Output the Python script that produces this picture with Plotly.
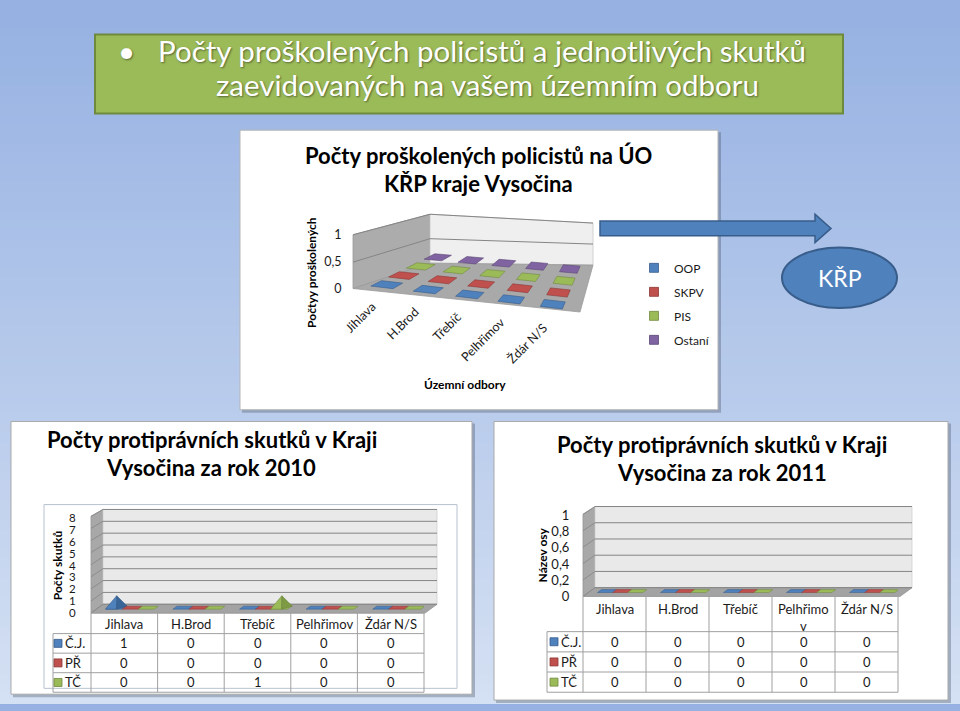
import plotly.graph_objects as go

W, H = 960, 711
FONT = "Lato"

# ---------------- data ----------------
units = ["Jihlava", "H.Brod", "Třebíč", "Pelhřimov", "Ždár N/S"]
units_2011_header = ["Jihlava", "H.Brod", "Třebíč", "Pelhřimo<br>v", "Ždár N/S"]

trained_names = ["OOP", "SKPV", "PIS", "Ostaní"]
trained_oop = [0, 0, 0, 0, 0]
trained_skpv = [0, 0, 0, 0, 0]
trained_pis = [0, 0, 0, 0, 0]
trained_ostani = [0, 0, 0, 0, 0]
trained_ticks = [0, 0.5, 1]

offence_names = ["Č.J.", "PŘ", "TČ"]
off2010_cj = [1, 0, 0, 0, 0]
off2010_pr = [0, 0, 0, 0, 0]
off2010_tc = [0, 0, 1, 0, 0]
off2011_cj = [0, 0, 0, 0, 0]
off2011_pr = [0, 0, 0, 0, 0]
off2011_tc = [0, 0, 0, 0, 0]
ticks_2010 = [0, 1, 2, 3, 4, 5, 6, 7, 8]
ticks_2011 = [0, 0.2, 0.4, 0.6, 0.8, 1]

# ---------------- styles ----------------
COL = ["#4f81bd", "#c0504d", "#9bbb59", "#8064a2"]
COL_EDGE = ["#385d8a", "#8c3836", "#71893f", "#5c4776"]
COL_DARK = ["#3a6598", "#9b3d3a", "#7d9a44", "#654f82"]
GRID = "#858585"
TXT = "#1a1a1a"
TABLE_LINE = "#a0a0a0"


def X(px):
    return px / W


def Y(py):
    return 1 - py / H


shapes = []


def path(points):
    return "M" + "L".join(f"{X(x):.5f},{Y(y):.5f}" for x, y in points) + "Z"


def poly(points, fill, line=None, width=0, layer="below"):
    shapes.append(dict(type="path", xref="paper", yref="paper", path=path(points),
                       fillcolor=fill, line=dict(color=line or fill, width=width), layer=layer))


def rect(x0, y0, x1, y1, fill, line=None, width=0, layer="below"):
    shapes.append(dict(type="rect", xref="paper", yref="paper", x0=X(x0), x1=X(x1),
                       y0=Y(y1), y1=Y(y0), fillcolor=fill,
                       line=dict(color=line or fill, width=width), layer=layer))


def seg(x0, y0, x1, y1, color, width=1, layer="below"):
    shapes.append(dict(type="line", xref="paper", yref="paper", x0=X(x0), y0=Y(y0),
                       x1=X(x1), y1=Y(y1), line=dict(color=color, width=width), layer=layer))


annotations = []


def text(x, y, t, size, color=TXT, xanchor="center", yanchor="middle", angle=0, bold=False, shadow=None):
    f = dict(family=FONT, size=size, color=color)
    if shadow:
        f["shadow"] = shadow
    annotations.append(dict(x=X(x), y=Y(y), xref="paper", yref="paper", text=(f"<b>{t}</b>" if bold else t),
                            showarrow=False, xanchor=xanchor, yanchor=yanchor, textangle=angle, font=f))


fig = go.Figure()

# ---------------- slide background ----------------
top, bot = (150, 177, 226), (212, 224, 243)
n = 72
for k in range(n):
    f = k / (n - 1)
    c = tuple(round(top[m] + (bot[m] - top[m]) * f) for m in range(3))
    rect(0, k * H / n, W, (k + 1) * H / n + 1, f"rgb{c}")

# title box
rect(95, 27, 843, 108, "#9bbb59", "#6f8a3c", 2)
sh = "1px 1px 2px rgba(0,0,0,0.45)"
text(126, 43, "•", 29.5, "white", shadow=sh)
text(156, 43, "Počty proškolených policistů a jednotlivých skutků", 29.5, "white", xanchor="left", shadow=sh)
text(487, 78, "zaevidovaných na vašem územním odboru", 29.5, "white", shadow=sh)

# ---------------- panel 1 : trained police officers (3D column) ----------------
rect(242, 127, 721, 414, "rgba(70,80,100,0.35)")
rect(240, 125, 718, 411, "white", "#b5b5b5", 1)
text(478, 151, "Počty proškolených policistů na ÚO", 22, "black", bold=True)
text(478, 180, "KŘP kraje Vysočina", 22, "black", bold=True)

# 3D walls / floor
poly([(353, 232), (430, 211), (430, 261), (353, 287)], "#acacac", "#9a9a9a", 0.8)
poly([(430, 211), (593, 220), (593, 263), (430, 261)], "#efefef", "#c8c8c8", 0.8)
poly([(353, 287), (430, 261), (593, 263), (580, 311)], "#a9a9a9", "#9a9a9a", 0.8)
seg(353, 232, 430, 211, GRID, 1)
seg(430, 211, 593, 220, GRID, 1)
seg(353, 260, 430, 236, GRID, 1)
seg(430, 236, 593, 241.5, GRID, 1)

# projection of (category, series, value) into the page (perspective camera of the 3D chart)
P_A, P_B, P_C, P_D = (387, 283), (553, 303), (438, 255), (570, 267)
VAL_PX = 287 - 232  # pixels per value unit on the value axis


def proj(i, j, v=0.0):
    u, t = i / 4, j / 3
    x = (1 - u) * (1 - t) * P_A[0] + u * (1 - t) * P_B[0] + (1 - u) * t * P_C[0] + u * t * P_D[0]
    y = (1 - u) * (1 - t) * P_A[1] + u * (1 - t) * P_B[1] + (1 - u) * t * P_C[1] + u * t * P_D[1]
    return x, y - v * VAL_PX


trained = [trained_oop, trained_skpv, trained_pis, trained_ostani]
HU, HT = 0.26, 0.3
for j, series in enumerate(trained):
    xs, ys = [], []
    for i, v in enumerate(series):
        faces = [[(i - HU, j - HT, v), (i + HU, j - HT, v), (i + HU, j + HT, v), (i - HU, j + HT, v)]]
        if v > 0:
            faces.append([(i - HU, j - HT, 0), (i + HU, j - HT, 0), (i + HU, j - HT, v), (i - HU, j - HT, v)])
        for face in faces:
            pts = [proj(*p) for p in face]
            pts.append(pts[0])
            xs += [p[0] for p in pts] + [None]
            ys += [p[1] for p in pts] + [None]
    fig.add_trace(go.Scatter(x=xs, y=ys, mode="lines", fill="toself", fillcolor=COL[j],
                             line=dict(color=COL_EDGE[j], width=0.6), xaxis="x", yaxis="y",
                             showlegend=False, hoverinfo="skip"))
    # legend proxy
    fig.add_trace(go.Scatter(x=[None], y=[None], mode="markers", name=trained_names[j],
                             marker=dict(symbol="square", size=9, color=COL[j],
                                         line=dict(color=COL_EDGE[j], width=0.8)),
                             xaxis="x", yaxis="y", legendgroup=trained_names[j], showlegend=True))

for i, name in enumerate(units):
    px, py = proj(i, -0.5)
    text(px + 3, py + 7, name, 12.5, TXT, xanchor="right", yanchor="top", angle=-45)

fig.add_trace(go.Scatter(x=[None], y=[None], xaxis="x4", yaxis="y4", showlegend=False, hoverinfo="skip"))
text(312, 271, "Počtyy proškolených", 12, "black", angle=-90, bold=True)
text(465, 385, "Územní odbory", 12, "black", bold=True)

# arrow + KŘP ellipse
shapes.append(dict(type="path", xref="paper", yref="paper", layer="above",
                   path=path([(600, 218), (815, 218), (815, 211), (831, 225.5), (815, 240), (815, 233), (600, 233)]),
                   fillcolor="#4f81bd", line=dict(color="#385d8a", width=1.5)))
shapes.append(dict(type="circle", xref="paper", yref="paper", layer="above",
                   x0=X(782), x1=X(897), y0=Y(307), y1=Y(245),
                   fillcolor="#4f81bd", line=dict(color="#385d8a", width=2)))
text(840, 276, "KŘP", 23, "white")


# ---------------- helpers for the 2010 / 2011 charts ----------------
def offence_bars(series_list, xa, ya, unit_px, cat_px):
    slot = [-0.15, 0.09, 0.33]
    hw = 0.12
    ph = 0.135
    b = 4 / unit_px
    th = 3 / unit_px
    sk = 4 / cat_px
    for s, series in enumerate(series_list):
        fx, fy, lx, ly, dx, dy = [], [], [], [], [], []
        for i, v in enumerate(series):
            c = i + slot[s]
            fx += [c - hw, c + hw, c + hw + sk, c - hw + sk, c - hw, None]
            fy += [b, b, b + th, b + th, b, None]
            if v > 0:
                tipx, tipy = c + sk * 0.6, b + th * 0.5 + v
                lx += [c - ph, c + ph * 0.25, tipx, c - ph, None]
                ly += [b, b, tipy, b, None]
                dx += [c + ph * 0.25, c + ph + sk, tipx, c + ph * 0.25, None]
                dy += [b, b + th, tipy, b, None]
        fig.add_trace(go.Scatter(x=fx, y=fy, mode="lines", fill="toself", fillcolor=COL[s],
                                 line=dict(color=COL_EDGE[s], width=0.5), xaxis=xa, yaxis=ya,
                                 showlegend=False, hoverinfo="skip"))
        if lx:
            fig.add_trace(go.Scatter(x=lx, y=ly, mode="lines", fill="toself", fillcolor=COL[s],
                                     line=dict(color=COL_EDGE[s], width=0.6), xaxis=xa, yaxis=ya,
                                     showlegend=False, hoverinfo="skip"))
            fig.add_trace(go.Scatter(x=dx, y=dy, mode="lines", fill="toself", fillcolor=COL_DARK[s],
                                     line=dict(color=COL_EDGE[s], width=0.6), xaxis=xa, yaxis=ya,
                                     showlegend=False, hoverinfo="skip"))


def data_table(xe, ye, header_vals, header_y, header_anchor, series_list, sq_x, lab_x, size=13):
    # grid lines
    for x in xe[1:]:
        seg(x, ye[0], x, ye[-1], TABLE_LINE, 1)
    seg(xe[0], ye[1], xe[0], ye[-1], TABLE_LINE, 1)
    seg(xe[1], ye[0], xe[-1], ye[0], TABLE_LINE, 1)
    for y in ye[1:]:
        seg(xe[0], y, xe[-1], y, TABLE_LINE, 1)
    centers = [(xe[i + 1] + xe[i + 2]) / 2 for i in range(len(header_vals))]
    for cx, h in zip(centers, header_vals):
        text(cx, header_y, h, size, TXT, yanchor=header_anchor)
    rows_y = []
    for s, series in enumerate(series_list):
        cy = (ye[s + 1] + ye[s + 2]) / 2
        rows_y.append(cy)
        text(lab_x, cy, offence_names[s], size, TXT, xanchor="left")
        for cx, v in zip(centers, series):
            text(cx, cy, str(v), size, TXT)
    fig.add_trace(go.Scatter(x=[sq_x] * len(series_list), y=rows_y, mode="markers",
                             marker=dict(symbol="square", size=8, color=COL[:len(series_list)],
                                         line=dict(color=COL_EDGE[:len(series_list)], width=0.8)),
                             xaxis="x", yaxis="y", showlegend=False, hoverinfo="skip"))


# ---------------- panel 2 : 2010 ----------------
rect(13, 425, 475, 705, "rgba(70,80,100,0.35)")
rect(11, 423, 472, 702, "white", "#a9a9a9", 1)
text(212, 441, "Počty protiprávních skutků v Kraji", 22, "black", bold=True)
text(211, 470, "Vysočina za rok 2010", 22, "black", bold=True)
rect(44, 508, 457, 696, "rgba(0,0,0,0)", "#b8c2d0", 1)

poly([(91, 520), (103, 513), (103, 610), (91, 619)], "#a8a8a8", "#969696", 0.8)
rect(103, 513, 437, 610, "#e9e9e9", "#cfcfcf", 0.8)
poly([(91, 619), (103, 610), (437, 610), (425, 619)], "#a3a3a3", "#969696", 0.8)
for v in ticks_2010:
    yb = 610 - v * (610 - 513) / 8
    yf = 619 - v * (619 - 520) / 8
    seg(103, yb, 437, yb, GRID, 1)
    seg(91, yf, 103, yb, GRID, 0.8)

offence_bars([off2010_cj, off2010_pr, off2010_tc], "x2", "y2", (619 - 521.7) / 8, (424 - 91) / 5)
data_table([53, 91, 157.6, 224.2, 290.8, 357.4, 424], [619, 640, 660, 680, 700],
           units, 630, "middle", [off2010_cj, off2010_pr, off2010_tc], 58, 63)
text(57, 570, "Počty skutků", 12, "black", angle=-90, bold=True)

# ---------------- panel 3 : 2011 ----------------
rect(496, 425, 951, 711, "rgba(70,80,100,0.35)")
rect(494, 423, 948, 708, "white", "#a9a9a9", 1)
text(722, 447, "Počty protiprávních skutků v Kraji", 22, "black", bold=True)
text(722, 475, "Vysočina za rok 2011", 22, "black", bold=True)

poly([(583, 518), (595, 510), (595, 593), (583, 602)], "#a8a8a8", "#969696", 0.8)
rect(595, 510, 912, 593, "#e9e9e9", "#cfcfcf", 0.8)
poly([(583, 602), (595, 593), (912, 593), (900, 602)], "#a3a3a3", "#969696", 0.8)
for v in ticks_2011:
    yb = 593 - v * (593 - 510)
    yf = 602 - v * (602 - 518)
    seg(595, yb, 912, yb, GRID, 1)
    seg(583, yf, 595, yb, GRID, 0.8)

offence_bars([off2011_cj, off2011_pr, off2011_tc], "x3", "y3", (602 - 519), (898 - 583) / 5)
data_table([547, 583, 646, 709, 772, 835, 898], [602, 638, 658.7, 679.3, 700],
           units_2011_header, 605, "top", [off2011_cj, off2011_pr, off2011_tc], 554, 559)
text(542, 560, "Název osy", 12, "black", angle=-90, bold=True)

# ---------------- layout ----------------
hidden = dict(visible=False, showgrid=False, zeroline=False, fixedrange=True)
tickax = dict(showgrid=False, zeroline=False, showline=False, ticks="outside",
              tickcolor="rgba(0,0,0,0)", fixedrange=True)

fig.update_layout(
    width=W, height=H, margin=dict(l=0, r=0, t=0, b=0),
    paper_bgcolor="rgb(150,177,226)", plot_bgcolor="rgba(0,0,0,0)",
    separators=", ",
    font=dict(family=FONT, color=TXT),
    shapes=shapes, annotations=annotations,
    xaxis=dict(domain=[0, 1], range=[0, W], anchor="y", **hidden),
    yaxis=dict(domain=[0, 1], range=[H, 0], anchor="x", **hidden),
    xaxis2=dict(domain=[X(91), X(424)], range=[-0.5, 4.5], anchor="y2", **hidden),
    yaxis2=dict(domain=[Y(619), Y(521.7)], range=[0, 8], anchor="x2", tickvals=ticks_2010,
                ticklen=12, tickfont=dict(family=FONT, size=11.5, color=TXT), **tickax),
    xaxis3=dict(domain=[X(583), X(898)], range=[-0.5, 4.5], anchor="y3", **hidden),
    yaxis3=dict(domain=[Y(602), Y(519)], range=[0, 1], anchor="x3", tickvals=ticks_2011,
                ticklen=10, tickfont=dict(family=FONT, size=13, color=TXT), **tickax),
    xaxis4=dict(domain=[X(353), X(593)], range=[0, 1], anchor="y4", **hidden),
    yaxis4=dict(domain=[Y(287), Y(232)], range=[0, 1], anchor="x4", tickvals=trained_ticks,
                ticklen=8, tickfont=dict(family=FONT, size=12.5, color=TXT), **tickax),
    showlegend=True,
    legend=dict(x=X(634), y=Y(251), xanchor="left", yanchor="top", bgcolor="rgba(0,0,0,0)",
                font=dict(family=FONT, size=12, color=TXT), tracegroupgap=5, itemwidth=30),
)

fig.write_html("out.html", config={"displayModeBar": False},
               post_script="document.body.style.margin='0';")
